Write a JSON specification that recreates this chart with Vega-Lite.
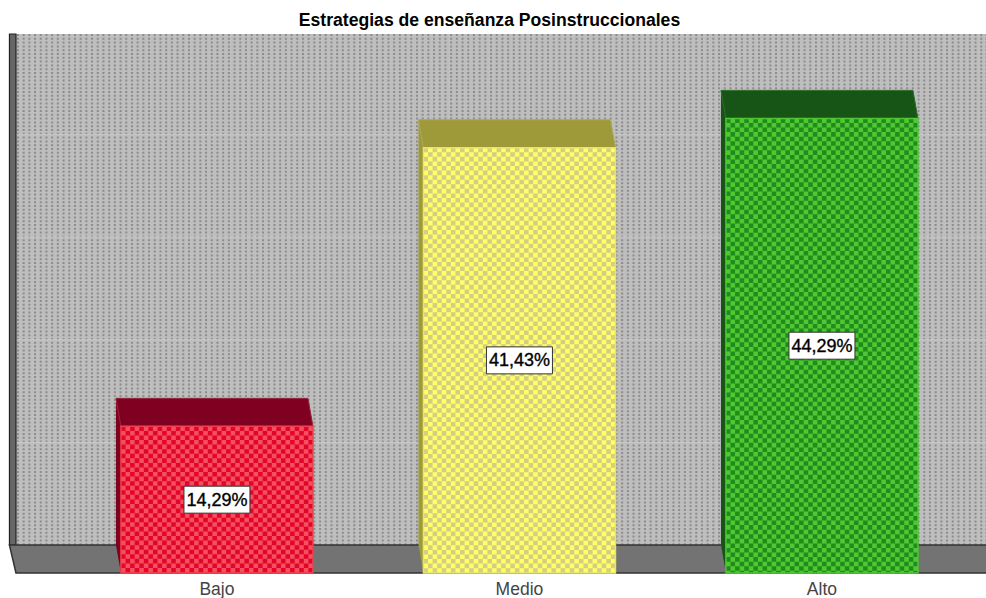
{
"$schema":"https://vega.github.io/schema/vega-lite/v6.json",
"width":986,"height":539,
"autosize":{"type":"none"},
"padding":{"left":0,"top":34,"right":0,"bottom":25},
"background":"white",
"config":{"view":{"stroke":null}},
"title":{"text":"Estrategias de enseñanza Posinstruccionales","font":"Liberation Sans","fontSize":17.6,"fontWeight":"bold","color":"#000000","anchor":"middle","dx":-3.5,"offset":0},
"datasets":{
"filas":[
{"nivel":"Bajo","porcentaje":14.29,"etiqueta":"14,29%"},
{"nivel":"Medio","porcentaje":41.43,"etiqueta":"41,43%"},
{"nivel":"Alto","porcentaje":44.29,"etiqueta":"44,29%"}],
"rejilla":[{"marca":10},{"marca":20},{"marca":30},{"marca":40}],
"escena":[{"parte":"plano"}]
},
"data":{"name":"filas"},
"layer":[
{"data":{"name":"escena"},
"mark":{"type":"point","filled":true,"opacity":1,"size":4,"fill":"#BEBEBE","strokeWidth":0,"shape":"M-503.5-28V-539H466.5V-28Z"},
"encoding":{
"x":{"datum":"Medio","type":"nominal","scale":{"type":"band","domain":["Bajo","Medio","Alto"],"paddingInner":0.365,"paddingOuter":0.3123,"align":0.64},
"axis":{"title":null,"domain":false,"ticks":false,"labelAngle":0,"labelFont":"Liberation Sans","labelFontSize":17.5,"labelColor":"#444444","labelPadding":7}},
"y":{"datum":0,"type":"quantitative","scale":{"domain":[0,52.51]},"axis":null}}},
{"data":{"name":"escena"},
"mark":{"type":"point","filled":false,"opacity":1,"size":4,"stroke":"#8C8C8C","strokeWidth":2,"strokeDash":[2,1.8],"shape":"M-501.5-539V-28M-495.8-539V-28M-490.1-539V-28M-484.4-539V-28M-478.7-539V-28M-473-539V-28M-467.3-539V-28M-461.6-539V-28M-455.9-539V-28M-450.2-539V-28M-444.5-539V-28M-438.8-539V-28M-433.1-539V-28M-427.4-539V-28M-421.7-539V-28M-416-539V-28M-410.3-539V-28M-404.6-539V-28M-398.9-539V-28M-393.2-539V-28M-387.5-539V-28M-381.8-539V-28M-376.1-539V-28M-370.4-539V-28M-364.7-539V-28M-359-539V-28M-353.3-539V-28M-347.6-539V-28M-341.9-539V-28M-336.2-539V-28M-330.5-539V-28M-324.8-539V-28M-319.1-539V-28M-313.4-539V-28M-307.7-539V-28M-302-539V-28M-296.3-539V-28M-290.6-539V-28M-284.9-539V-28M-279.2-539V-28M-273.5-539V-28M-267.8-539V-28M-262.1-539V-28M-256.4-539V-28M-250.7-539V-28M-245-539V-28M-239.3-539V-28M-233.6-539V-28M-227.9-539V-28M-222.2-539V-28M-216.5-539V-28M-210.8-539V-28M-205.1-539V-28M-199.4-539V-28M-193.7-539V-28M-188-539V-28M-182.3-539V-28M-176.6-539V-28M-170.9-539V-28M-165.2-539V-28M-159.5-539V-28M-153.8-539V-28M-148.1-539V-28M-142.4-539V-28M-136.7-539V-28M-131-539V-28M-125.3-539V-28M-119.6-539V-28M-113.9-539V-28M-108.2-539V-28M-102.5-539V-28M-96.8-539V-28M-91.1-539V-28M-85.4-539V-28M-79.7-539V-28M-74-539V-28M-68.3-539V-28M-62.6-539V-28M-56.9-539V-28M-51.2-539V-28M-45.5-539V-28M-39.8-539V-28M-34.1-539V-28M-28.4-539V-28M-22.7-539V-28M-17-539V-28M-11.3-539V-28M-5.6-539V-28M0.1-539V-28M5.8-539V-28M11.5-539V-28M17.2-539V-28M22.9-539V-28M28.6-539V-28M34.3-539V-28M40-539V-28M45.7-539V-28M51.4-539V-28M57.1-539V-28M62.8-539V-28M68.5-539V-28M74.2-539V-28M79.9-539V-28M85.6-539V-28M91.3-539V-28M97-539V-28M102.7-539V-28M108.4-539V-28M114.1-539V-28M119.8-539V-28M125.5-539V-28M131.2-539V-28M136.9-539V-28M142.6-539V-28M148.3-539V-28M154-539V-28M159.7-539V-28M165.4-539V-28M171.1-539V-28M176.8-539V-28M182.5-539V-28M188.2-539V-28M193.9-539V-28M199.6-539V-28M205.3-539V-28M211-539V-28M216.7-539V-28M222.4-539V-28M228.1-539V-28M233.8-539V-28M239.5-539V-28M245.2-539V-28M250.9-539V-28M256.6-539V-28M262.3-539V-28M268-539V-28M273.7-539V-28M279.4-539V-28M285.1-539V-28M290.8-539V-28M296.5-539V-28M302.2-539V-28M307.9-539V-28M313.6-539V-28M319.3-539V-28M325-539V-28M330.7-539V-28M336.4-539V-28M342.1-539V-28M347.8-539V-28M353.5-539V-28M359.2-539V-28M364.9-539V-28M370.6-539V-28M376.3-539V-28M382-539V-28M387.7-539V-28M393.4-539V-28M399.1-539V-28M404.8-539V-28M410.5-539V-28M416.2-539V-28M421.9-539V-28M427.6-539V-28M433.3-539V-28M439-539V-28M444.7-539V-28M450.4-539V-28M456.1-539V-28M461.8-539V-28M467-539V-28"},
"encoding":{
"x":{"datum":"Medio","type":"nominal"},
"y":{"datum":0,"type":"quantitative","scale":{"domain":[0,52.51]},"axis":null}}},
{"data":{"name":"rejilla"},
"mark":{"type":"point","filled":false,"opacity":1,"size":4,"stroke":"#C9C9C9","strokeWidth":1,"shape":"M-510-28H466.5"},
"encoding":{
"x":{"datum":"Medio","type":"nominal"},
"y":{"field":"marca","type":"quantitative","scale":{"domain":[0,52.51]},"axis":null}}},
{"data":{"name":"escena"},
"mark":{"type":"point","filled":true,"opacity":1,"size":4,"fill":"#666666","stroke":"#222222","strokeWidth":1.2,"shape":"M-510-28V-539H-503.5V-28Z"},
"encoding":{
"x":{"datum":"Medio","type":"nominal"},
"y":{"datum":0,"type":"quantitative","scale":{"domain":[0,52.51]},"axis":null}}},
{"data":{"name":"escena"},
"mark":{"type":"point","filled":true,"opacity":1,"size":4,"fill":"#737373","stroke":"#333333","strokeWidth":1.5,"shape":"M-510-28L-503.5 0H470V-28Z"},
"encoding":{
"x":{"datum":"Medio","type":"nominal"},
"y":{"datum":0,"type":"quantitative","scale":{"domain":[0,52.51]},"axis":null}}},
{"mark":{"type":"bar","size":5,"xOffset":-98.5,"yOffset":-28},
"encoding":{
"x":{"field":"nivel","type":"nominal"},
"y":{"field":"porcentaje","type":"quantitative","scale":{"domain":[0,52.51]},"axis":null},
"fill":{"field":"nivel","type":"nominal","legend":null,"scale":{"domain":["Bajo","Medio","Alto"],"range":["#7F0020","#9E9A3A","#175517"]}}}},
{"mark":{"type":"point","filled":true,"opacity":1,"size":4,"strokeWidth":0,"shape":"M-101-28H-96V0Z"},
"encoding":{
"x":{"field":"nivel","type":"nominal"},
"y":{"datum":0,"type":"quantitative","scale":{"domain":[0,52.51]},"axis":null},
"fill":{"field":"nivel","type":"nominal","legend":null,"scale":{"domain":["Bajo","Medio","Alto"],"range":["#7F0020","#9E9A3A","#175517"]}}}},
{"mark":{"type":"point","filled":true,"opacity":1,"size":4,"strokeWidth":1,"shape":"M-101-28H91L96 0H-96Z"},
"encoding":{
"x":{"field":"nivel","type":"nominal"},
"y":{"field":"porcentaje","type":"quantitative","scale":{"domain":[0,52.51]},"axis":null},
"fill":{"field":"nivel","type":"nominal","legend":null,"scale":{"domain":["Bajo","Medio","Alto"],"range":["#7F0020","#9E9A3A","#175517"]}},
"stroke":{"field":"nivel","type":"nominal","legend":null,"scale":{"domain":["Bajo","Medio","Alto"],"range":["#96283C","#ABA85A","#2F6E2B"]}}}},
{"mark":{"type":"bar","size":192},
"encoding":{
"x":{"field":"nivel","type":"nominal"},
"y":{"field":"porcentaje","type":"quantitative","scale":{"domain":[0,52.51]},"axis":null},
"fill":{"field":"nivel","type":"nominal","legend":null,"scale":{"domain":["Bajo","Medio","Alto"],"range":["#F4505E","#FFFF66","#50C832"]}}}},
{"mark":{"type":"point","filled":false,"opacity":1,"size":4,"clip":true,"strokeWidth":4.57,"strokeDash":[4.57,4.57],"shape":"M-93.71 0V460M-89.14 4.57V460M-84.57 0V460M-80 4.57V460M-75.43 0V460M-70.86 4.57V460M-66.29 0V460M-61.71 4.57V460M-57.14 0V460M-52.57 4.57V460M-48 0V460M-43.43 4.57V460M-38.86 0V460M-34.29 4.57V460M-29.71 0V460M-25.14 4.57V460M-20.57 0V460M-16 4.57V460M-11.43 0V460M-6.86 4.57V460M-2.29 0V460M2.29 4.57V460M6.86 0V460M11.43 4.57V460M16 0V460M20.57 4.57V460M25.14 0V460M29.71 4.57V460M34.29 0V460M38.86 4.57V460M43.43 0V460M48 4.57V460M52.57 0V460M57.14 4.57V460M61.71 0V460M66.29 4.57V460M70.86 0V460M75.43 4.57V460M80 0V460M84.57 4.57V460M89.14 0V460M93.71 4.57V460"},
"encoding":{
"x":{"field":"nivel","type":"nominal"},
"y":{"field":"porcentaje","type":"quantitative","scale":{"domain":[0,52.51]},"axis":null},
"stroke":{"field":"nivel","type":"nominal","legend":null,"scale":{"domain":["Bajo","Medio","Alto"],"range":["#E2062C","#D4CD84","#218C1E"]}}}},
{"mark":{"type":"bar","size":192,"filled":false,"strokeWidth":1.5},
"encoding":{
"x":{"field":"nivel","type":"nominal"},
"y":{"field":"porcentaje","type":"quantitative","scale":{"domain":[0,52.51]},"axis":null},
"stroke":{"field":"nivel","type":"nominal","legend":null,"scale":{"domain":["Bajo","Medio","Alto"],"range":["#F0404F","#E8E46A","#4FC536"]}}}},
{"mark":{"type":"point","filled":true,"opacity":1,"size":4,"fill":"#FFFFFF","stroke":"#333333","strokeWidth":1,"shape":"M-33-13.5H33V13.5H-33Z"},
"encoding":{
"x":{"field":"nivel","type":"nominal"},
"y":{"field":"porcentaje","type":"quantitative","scale":{"domain":[0,105.02]},"axis":null}}},
{"mark":{"type":"text","font":"Liberation Sans","fontSize":18,"color":"#000000","stroke":"#000000","strokeWidth":0.35,"align":"center","baseline":"middle","dy":1},
"encoding":{
"x":{"field":"nivel","type":"nominal"},
"y":{"field":"porcentaje","type":"quantitative","scale":{"domain":[0,105.02]},"axis":null},
"text":{"field":"etiqueta","type":"nominal"}}}
],
"resolve":{"scale":{"y":"independent","fill":"independent","stroke":"independent"}}
}
